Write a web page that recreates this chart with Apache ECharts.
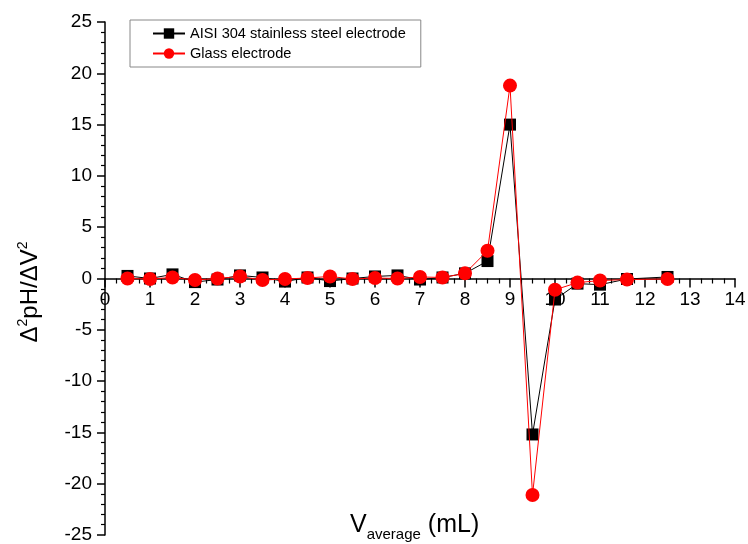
<!DOCTYPE html>
<html>
<head>
<meta charset="utf-8">
<script src="https://cdn.jsdelivr.net/npm/echarts@6/dist/echarts.min.js"></script>
<style>
  html, body { margin: 0; padding: 0; background: #fff; }
  #chart { width: 748px; height: 544px; }
</style>
</head>
<body>
<div id="chart"></div>
<script>
var volumes = [0.5, 1, 1.5, 2, 2.5, 3, 3.5, 4, 4.5, 5, 5.5, 6, 6.5, 7, 7.5, 8, 8.5, 9, 9.5, 10, 10.5, 11, 11.6, 12.5];
var steelValues = [0.25, 0, 0.4, -0.35, -0.1, 0.3, 0.1, -0.3, 0.1, -0.25, 0, 0.2, 0.3, -0.1, 0.1, 0.5, 1.7, 15, -15.2, -2.05, -0.5, -0.6, -0.05, 0.15];
var glassValues = [0, -0.05, 0.1, -0.15, 0, 0.2, -0.15, -0.05, 0.05, 0.2, -0.05, 0.05, 0, 0.15, 0.1, 0.5, 2.7, 18.8, -21.1, -1.1, -0.4, -0.2, -0.1, -0.05];
var seriesNames = ['AISI 304 stainless steel electrode', 'Glass electrode'];

function pairs(vals) {
    return volumes.map((v, i) => [v, vals[i]]);
}

var myChart = echarts.init(document.getElementById('chart'));
var font = 'Liberation Sans, Arial, sans-serif';
// grid top/bottom in px, x axis sits on y = 0 (the middle)
var gridTop = 22, gridBottom = 535;

myChart.setOption({
    animation: false,
    textStyle: { fontFamily: font },
    grid: { left: 105, right: 13, top: gridTop, bottom: 544 - gridBottom, outerBoundsMode: 'none' },
    legend: {
        orient: 'vertical',
        left: 130,
        top: 20,
        padding: [6, 15, 6, 22],
        itemGap: 5,
        itemWidth: 32,
        itemHeight: 13,
        borderColor: '#888',
        borderWidth: 1,
        textStyle: { fontSize: 14.6, color: '#000', fontFamily: font },
        data: seriesNames
    },
    xAxis: {
        type: 'value',
        min: 0,
        max: 14,
        interval: 1,
        offset: -(gridBottom - gridTop) / 2,
        axisLine: { onZero: false, lineStyle: { color: '#000', width: 1.5 } },
        axisTick: { length: 9, lineStyle: { color: '#000', width: 1.5 } },
        minorTick: { show: true, splitNumber: 4, length: 5, lineStyle: { color: '#000', width: 1.2 } },
        axisLabel: { fontSize: 19, color: '#000', margin: 12, fontFamily: font },
        splitLine: { show: false }
    },
    yAxis: {
        type: 'value',
        min: -25,
        max: 25,
        interval: 5,
        axisLine: { show: true, lineStyle: { color: '#000', width: 1.5 } },
        axisTick: { length: 8, lineStyle: { color: '#000', width: 1.5 } },
        minorTick: { show: true, splitNumber: 5, length: 4, lineStyle: { color: '#000', width: 1.2 } },
        axisLabel: { fontSize: 19, color: '#000', margin: 13, fontFamily: font },
        splitLine: { show: false }
    },
    graphic: [
        {
            type: 'text',
            left: 350,
            top: 513,
            style: {
                text: '{a|V}{b|average}{a| (mL)}',
                rich: {
                    a: { fontSize: 25, fontFamily: font, fill: '#000', verticalAlign: 'bottom' },
                    b: { fontSize: 15, fontFamily: font, fill: '#000', verticalAlign: 'bottom', padding: [0, 0, -4, 0] }
                }
            }
        },
        {
            type: 'text',
            x: 30,
            y: 292,
            rotation: Math.PI / 2,
            style: {
                text: '{a|Δ}{s|2}{a|pH/ΔV}{s|2}',
                align: 'center',
                verticalAlign: 'middle',
                rich: {
                    a: { fontSize: 24, fontFamily: font, fill: '#000', lineHeight: 28 },
                    s: { fontSize: 14, fontFamily: font, fill: '#000', verticalAlign: 'top', padding: [0, 0, 12, 0] }
                }
            }
        }
    ],
    series: [
        {
            name: seriesNames[0],
            type: 'line',
            data: pairs(steelValues),
            symbol: 'rect',
            symbolSize: 12,
            itemStyle: { color: '#000' },
            lineStyle: { color: '#000', width: 1 },
            z: 2
        },
        {
            name: seriesNames[1],
            type: 'line',
            data: pairs(glassValues),
            symbol: 'circle',
            symbolSize: 14,
            itemStyle: { color: '#ff0000' },
            lineStyle: { color: '#ff0000', width: 1 },
            z: 3
        }
    ]
});
</script>
</body>
</html>
